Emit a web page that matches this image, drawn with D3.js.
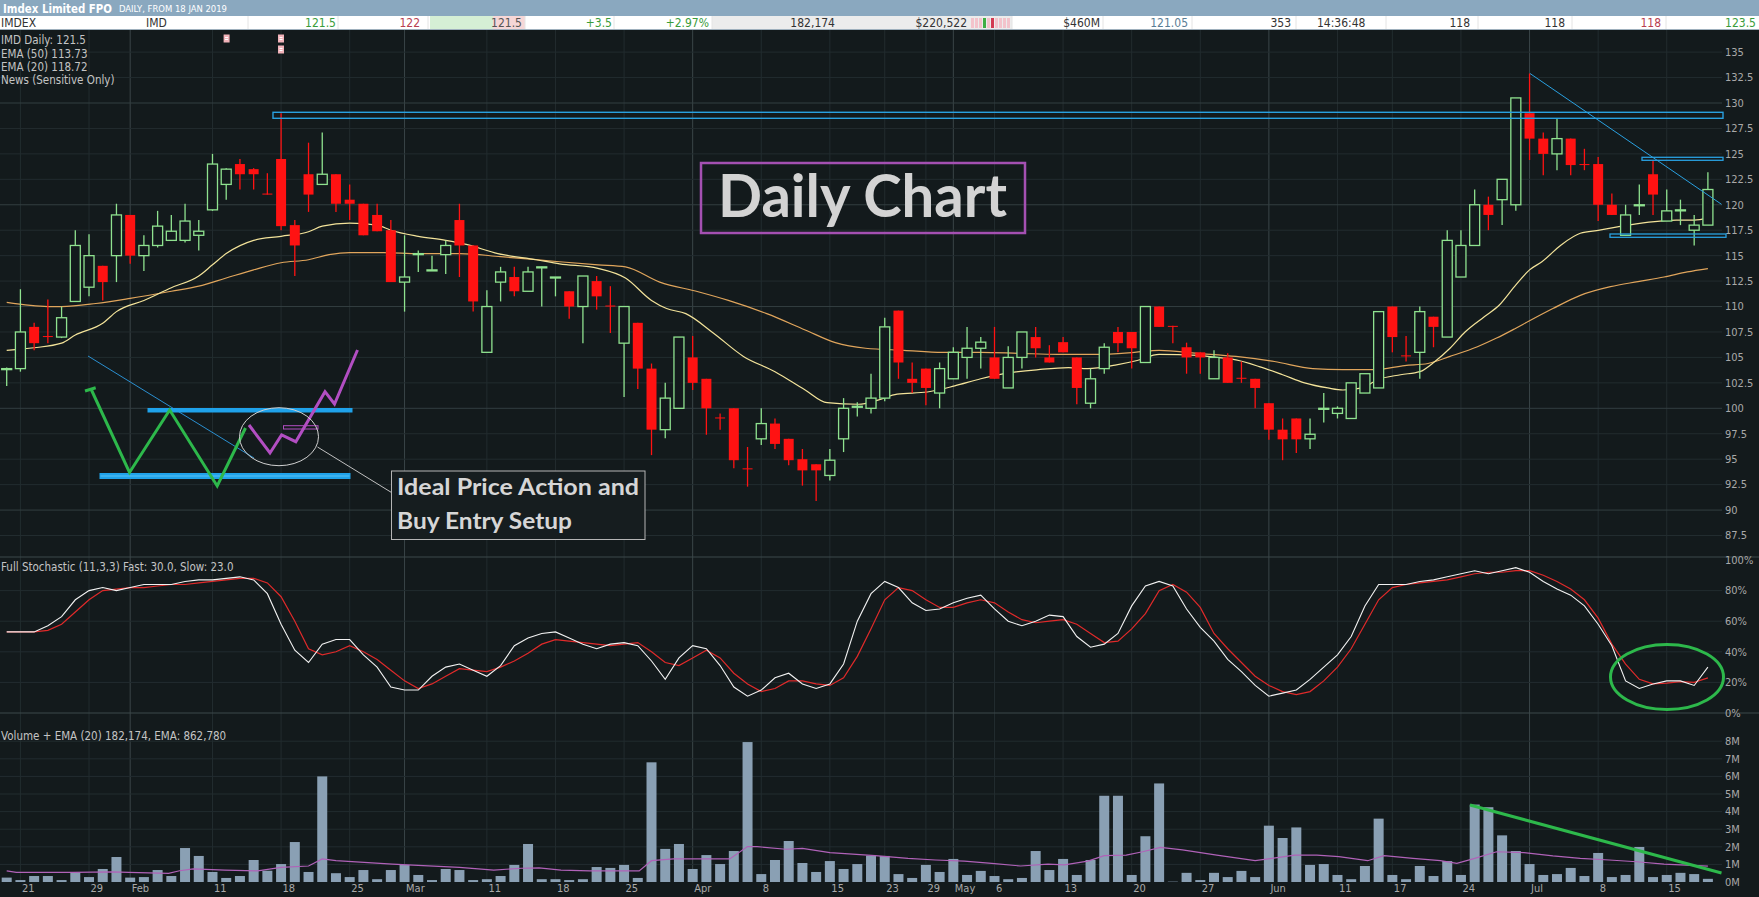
<!DOCTYPE html>
<html>
<head>
<meta charset="utf-8">
<script src="https://cdn.jsdelivr.net/npm/d3@7"></script>
<style>
html, body { margin: 0; padding: 0; background: #131a1c; overflow: hidden; }
svg { display: block; }
</style>
</head>
<body>
<svg id="chart"></svg>
<script>
// Daily bars, 18 Jan 2019 (index 0) to 18 Jul 2019 (index 124)
const open  = [103.8,103.9,108.0,107.1,107.0,110.5,111.9,114.0,115.0,119.0,
               115.0,116.0,116.5,116.5,117.0,119.5,122.0,124.0,123.5,121.1,
               124.5,118.0,123.0,122.0,123.0,120.5,120.1,119.0,117.5,112.4,
               115.1,113.5,115.1,118.5,116.0,105.5,112.4,112.9,111.5,113.8,
               112.8,111.5,110.0,112.5,110.1,106.4,108.4,103.9,97.9,100.0,
               105.0,102.9,99.1,100.0,94.1,97.0,98.5,97.0,95.0,94.5,
               93.4,97.0,100.1,100.0,101.0,109.6,102.9,103.9,101.5,102.9,
               105.0,105.9,105.0,102.0,105.0,107.0,105.0,106.5,105.0,100.5,
               103.9,107.5,107.5,104.5,110.0,108.1,106.0,105.5,102.9,105.0,
               103.0,102.9,100.5,97.9,99.0,97.0,99.9,99.5,99.0,101.5,
               102.0,110.0,105.2,105.5,109.0,107.0,112.9,116.0,120.0,120.5,
               120.0,129.0,126.5,125.0,126.5,124.0,124.0,120.0,117.0,119.9,
               123.0,118.4,119.4,117.5,118.0];
const high  = [104.0,111.7,108.4,110.7,110.0,117.5,117.1,114.0,120.1,119.0,
               117.0,119.4,119.0,120.1,118.5,125.0,123.6,124.5,123.6,123.1,
               129.0,118.5,126.1,127.1,123.0,122.0,120.1,120.1,118.5,117.0,
               115.5,115.0,116.5,120.1,116.0,111.6,113.9,113.9,113.9,113.9,
               112.9,111.5,113.0,113.0,112.0,110.0,108.4,104.4,102.5,107.0,
               107.1,102.9,99.5,100.0,96.2,100.0,99.0,97.0,96.0,94.5,
               96.0,101.0,100.6,103.4,108.9,109.6,104.5,103.9,104.5,106.0,
               108.0,107.0,108.0,106.1,107.5,108.0,106.2,107.0,105.0,103.9,
               106.4,108.0,107.5,110.0,110.0,108.1,106.45,105.5,105.7,105.4,
               104.6,102.9,100.5,99.0,99.0,99.0,101.5,100.2,102.5,103.4,
               109.5,110.0,107.1,110.0,109.0,117.5,117.5,121.5,120.8,122.5,
               130.5,132.9,127.1,128.5,126.5,125.5,124.7,121.1,120.0,122.0,
               124.4,121.5,120.5,119.0,123.2];
const low   = [102.2,103.6,105.7,106.4,106.9,110.5,111.0,110.6,112.4,114.2,
               113.5,115.8,116.5,116.3,115.5,119.4,120.5,121.5,121.5,121.0,
               117.5,113.0,119.3,122.0,119.3,118.5,117.0,117.4,112.4,109.5,
               113.4,113.5,113.2,112.9,109.5,105.5,110.5,111.0,111.5,110.0,
               111.0,108.8,106.4,109.7,107.4,101.1,101.9,95.4,97.05,100.0,
               101.8,97.4,97.9,94.1,92.3,96.4,96.0,94.4,92.4,90.9,
               92.9,95.7,99.2,99.5,100.7,102.9,101.5,100.3,100.0,102.9,
               102.9,103.9,102.9,102.0,103.9,105.0,104.5,105.5,100.4,100.0,
               103.4,105.5,103.9,104.5,108.0,106.4,103.4,103.4,102.9,102.5,
               102.5,100.0,96.9,94.9,95.6,96.0,98.6,99.0,99.0,101.5,
               102.0,105.5,104.6,102.9,106.0,107.0,112.9,116.0,117.5,118.0,
               119.4,124.4,122.9,123.4,122.9,123.4,118.4,119.0,117.0,119.0,
               119.0,118.4,118.0,116.0,118.0];
const close = [103.9,107.5,106.4,107.0,108.9,116.0,115.0,112.4,119.0,115.0,
               116.0,117.9,117.4,118.4,117.4,124.0,123.5,123.0,123.0,121.0,
               117.9,116.0,121.0,123.0,120.1,120.1,117.0,117.4,112.4,112.9,
               115.2,113.6,116.0,116.0,110.5,110.0,113.4,111.5,113.4,113.9,
               112.9,110.0,113.0,111.0,110.0,110.0,103.9,97.9,101.0,107.0,
               102.5,100.0,99.0,94.9,94.0,98.5,96.5,94.9,93.9,93.9,
               94.9,100.0,100.2,101.0,108.0,104.5,102.5,102.0,103.9,105.5,
               105.9,106.5,102.9,105.0,107.5,105.9,104.5,105.5,102.0,102.9,
               106.0,106.4,105.9,110.0,108.0,108.0,105.0,105.0,105.0,102.5,
               102.9,102.0,97.9,96.95,96.95,97.45,100.0,100.0,102.5,103.4,
               109.5,107.0,105.1,109.5,108.0,116.5,116.0,120.0,119.0,122.5,
               130.5,126.5,125.0,126.5,123.9,123.9,120.0,119.0,119.0,120.0,
               121.0,119.4,119.5,118.0,121.5];
// volume in millions
const volume = [0.25,0.11,0.34,0.34,0.11,0.55,0.28,0.74,1.42,0.25,
                0.28,0.68,0.34,1.93,1.48,0.57,0.23,0.34,1.25,0.64,
                1.02,2.27,0.57,6.0,0.5,0.28,0.68,0.16,0.68,0.97,
                0.4,0.11,0.74,0.68,0.11,0.16,0.34,0.97,2.16,0.16,
                0.16,0.11,0.16,0.85,0.8,0.97,0.23,6.8,1.88,2.16,
                0.74,1.53,1.02,1.76,7.95,0.45,1.25,2.33,1.08,0.57,
                1.19,0.74,1.02,1.5,1.48,0.45,0.23,0.97,0.57,1.31,
                0.4,0.63,0.34,0.16,0.23,1.76,0.68,1.31,0.4,1.25,
                4.9,4.9,0.4,2.6,5.6,0.02,0.52,0.11,0.52,0.28,
                0.63,0.28,3.2,2.5,3.1,0.97,1.02,0.4,0.16,0.91,
                3.6,0.4,0.16,0.91,0.34,1.19,0.4,4.4,4.25,2.65,
                1.76,1.02,0.4,0.45,0.8,0.34,1.65,0.28,0.4,1.99,
                0.28,0.4,0.52,0.45,0.18];
// Full Stochastic (11,3,3): fast (white) and slow (red), percent
const stochFast = [53,53,53,57,63,74,80,82,80,82, 84,84,84,86,87,87,88,89,87,78,
                   58,41,33,45,48,48,38,30,17,15, 15,24,30,32,28,24,31,44,49,52,
                   53,49,45,42,45,46,44,34,22,36, 44,42,31,17,11,15,23,26,19,16,
                   19,32,60,78,86,82,72,67,68,72, 75,77,68,60,57,60,64,63,50,43,
                   45,52,70,83,86,83,68,56,47,35, 27,18,11,13,15,22,30,38,50,70,
                   84,84,84,86,87,89,91,93,91,93, 95,92,86,81,77,70,58,44,21,16,
                   19,21,21,18,30];
const stochSlow = [53,53,53,54,58,66,74,80,81,82, 82,83,84,84,85,86,87,88,88,85,
                   76,60,42,38,40,44,40,35,28,21, 16,19,24,29,28,27,30,34,39,45,
                   48,47,46,45,44,45,46,40,33,31, 36,41,36,26,19,14,16,21,21,19,
                   18,23,37,55,74,82,80,74,69,69, 72,74,72,66,61,59,60,61,58,52,
                   46,47,55,65,80,84,79,69,52,42, 33,24,18,14,12,14,21,30,42,58,
                   74,82,84,85,86,87,89,91,92,92, 93,93,90,86,81,74,62,45,32,22,
                   19,19.5,20.5,20,23];
// EMA lines: [bar index, value]
const ema20 = [[0,105.7],[2,105.95],[4,106.4],[5,107.2],[7,108.35],[8,109.5],[10,110.6],[12,111.85],
               [14,113.0],[15,114.1],[16,115.2],[18,116.5],[20,116.9],[22,117.35],[23,117.9],[25,118.2],
               [27,118.0],[28,117.5],[30,116.9],[32,116.5],[33.5,116.1],[35.8,115.2],[38.6,114.6],[40.3,114.2],
               [43.1,113.75],[45.1,112.8],[47,110.6],[48.1,109.8],[49.5,109.3],[51.5,107.4],[53.7,105.1],[56,103.6],
               [58.2,101.8],[59.8,100.55],[62.1,100.4],[63.5,100.8],[64.9,101.4],[67.1,101.6],[69.1,102.2],[71,102.9],
               [72.7,103.4],[75.2,103.8],[77.4,104.0],[78.8,103.9],[80.8,104.25],[82.4,104.7],[84,105.3],[86.8,105.2],
               [88.2,105.0],[89.6,104.75],[91.3,104.1],[93,103.3],[94.6,102.5],[96.3,102.0],[97.4,101.8],[98.8,102.0],
               [99.9,102.8],[101.6,103.3],[103,103.6],[104.1,104.6],[105.2,105.9],[106.3,107.5],[107.7,109.0],[108.8,110.15],
               [109.9,111.95],[111,113.6],[111.9,114.4],[113.3,116.05],[114.7,117.2],[116.1,117.5],[117.5,117.85],[119.7,118.3],
               [121.7,118.5],[123,118.5],[124,118.72]];
const ema50 = [[0,110.4],[3,110.0],[4,110.0],[6.5,110.3],[9,110.8],[12,111.5],[14,112.0],[16,112.8],
               [18,113.6],[20,114.3],[22,114.6],[23.5,115.1],[25,115.3],[27.5,115.3],[30,115.2],[33,115.2],
               [36,114.9],[38.6,114.6],[40.3,114.4],[43.1,114.1],[45.1,113.9],[47.6,112.4],[50.4,111.45],[52.6,110.6],
               [55.4,109.3],[58.2,107.7],[60.4,106.45],[62.6,105.9],[65.4,105.7],[68.2,105.5],[71,105.5],[73.8,105.4],
               [76.6,105.3],[79.4,105.3],[82.2,105.5],[84,105.7],[86.8,105.4],[89.6,105.1],[92.4,104.6],[95.2,103.9],
               [97.4,103.8],[99.7,103.8],[101.9,104.2],[103.6,104.4],[105.2,105.1],[107.2,106.05],[108.6,106.9],[109.9,107.8],
               [111,108.6],[112.7,109.8],[114.7,111.1],[116.9,111.95],[118.9,112.45],[120.8,112.9],[122.5,113.4],[124,113.73]];
const volEma = [[0,0.63],[0.7,0.55],[4.8,0.55],[7.7,0.57],[8.9,0.55],[11.8,0.49],[12.6,0.64],[13.6,0.74],
                [15.9,0.68],[18.3,0.63],[20,0.83],[22,0.91],[23,1.31],[24,1.21],[28.1,1.02],[33,0.83],
                [35.5,0.68],[37.5,0.78],[38.8,0.8],[40.4,0.68],[42.5,0.63],[46.1,0.63],[47,1.21],[48.6,1.31],
                [52.7,1.31],[54,2.01],[54.7,2.01],[56.8,1.86],[58,1.91],[60,1.67],[63.3,1.5],[65.7,1.34],
                [67.7,1.25],[69.8,1.19],[71.8,1.06],[73.9,0.91],[75.9,1.02],[77.1,0.97],[78.8,1.19],[80,1.5],
                [81.6,1.53],[82.8,1.72],[84.1,1.97],[85.7,1.82],[88.2,1.53],[91,1.21],[93.9,1.53],[95.5,1.53],
                [97.1,1.44],[99.2,1.21],[100.4,1.5],[102.5,1.34],[104.5,1.21],[105.7,1.06],[107,1.34],[108.6,1.72],
                [110.6,1.67],[112.7,1.48],[114.7,1.34],[116.8,1.25],[118.8,1.15],[120.8,1.02],[124,0.9]];
// x axis ticks (bar index + label)
const tickIdx = [1,6,9,15,20,25,29,35,40,45,50,55,60,64,67,69,72,77,82,87,92,97,101,106,111,116,121];
const tickLbl = ["21","29","Feb","11","18","25","Mar","11","18","25","Apr","8","15","23","29","May","6","13","20","27","Jun","11","17","24","Jul","8","15"];
const priceTicks = [135,132.5,130,127.5,125,122.5,120,117.5,115,112.5,110,107.5,105,102.5,100,97.5,95,92.5,90,87.5];
const stochTicks = [100,80,60,40,20,0];
const volTicks = [8,7,6,5,4,3,2,1,0];

const W = 1759, H = 897;
const FONT = "'Liberation Sans Narrow','Arial Narrow','DejaVu Sans Condensed','Liberation Sans',sans-serif";
const BG = "#131a1c";
const UP = "#8fe28f", DOWN = "#ff1212";

const svg = d3.select("#chart").attr("width", W).attr("height", H)
    .style("font-family", FONT);

const x  = d3.scaleLinear().domain([0, 124]).range([6.7, 1707.9]);
const yP = d3.scaleLinear().domain([100, 130]).range([408.3, 103]);
const yS = d3.scaleLinear().domain([0, 100]).range([713, 560]);
const yV = d3.scaleLinear().domain([0, 8]).range([882, 741.2]);
const GRID_R = 1722;

svg.append("rect").attr("width", W).attr("height", H).attr("fill", BG);

// ---- grid ----
const grid = svg.append("g");
const months = ["Feb","Mar","Apr","May","Jun","Jul"];
tickIdx.forEach((t, k) => {
    grid.append("line")
        .attr("x1", x(t)).attr("x2", x(t)).attr("y1", 30).attr("y2", 882)
        .attr("stroke", months.includes(tickLbl[k]) ? "#3a4548" : "#222c2f")
        .attr("stroke-width", 1);
});
priceTicks.forEach(p => {
    grid.append("line")
        .attr("x1", 0).attr("x2", GRID_R).attr("y1", yP(p)).attr("y2", yP(p))
        .attr("stroke", p % 10 === 0 ? "#333e41" : "#222c2f");
});
stochTicks.filter(s => s > 0 && s < 100).forEach(s => {
    grid.append("line").attr("x1", 0).attr("x2", GRID_R)
        .attr("y1", yS(s)).attr("y2", yS(s)).attr("stroke", "#222c2f");
});
volTicks.filter(v => v > 0).forEach(v => {
    grid.append("line").attr("x1", 0).attr("x2", GRID_R)
        .attr("y1", yV(v)).attr("y2", yV(v)).attr("stroke", "#222c2f");
});
// pane separators
[557, 713].forEach(yy => {
    grid.append("line").attr("x1", 0).attr("x2", W).attr("y1", yy).attr("y2", yy)
        .attr("stroke", "#3d484b");
});

// ---- right axis labels ----
const axisTxt = (xx, yy, t) => svg.append("text").attr("x", xx).attr("y", yy)
    .attr("dy", "0.35em").attr("fill", "#a9a9a9").attr("font-size", 11).text(t);
priceTicks.forEach(p => axisTxt(1725, yP(p), p));
stochTicks.forEach(s => axisTxt(1725, yS(s), s + "%"));
volTicks.forEach(v => axisTxt(1725, yV(v), v + "M"));

// x axis labels
tickIdx.forEach((t, k) => {
    svg.append("text").attr("x", x(t) + 1.5).attr("y", 892)
        .attr("fill", "#a9a9a9").attr("font-size", 11).text(tickLbl[k]);
});

// ---- EMA lines ----
const emaLine = d3.line().x(d => x(d[0])).y(d => yP(d[1])).curve(d3.curveMonotoneX);
svg.append("path").attr("d", emaLine(ema50)).attr("fill", "none")
    .attr("stroke", "#e0a55c").attr("stroke-width", 1.2);
svg.append("path").attr("d", emaLine(ema20)).attr("fill", "none")
    .attr("stroke", "#f3e39a").attr("stroke-width", 1.2);

// ---- candles ----
const bars = d3.range(close.length).map(i => ({i, o: open[i], h: high[i], l: low[i], c: close[i]}));
const cg = svg.append("g").selectAll("g").data(bars).enter().append("g");
cg.append("line")
    .attr("x1", d => x(d.i)).attr("x2", d => x(d.i))
    .attr("y1", d => yP(d.h)).attr("y2", d => yP(d.l))
    .attr("stroke", d => d.c >= d.o ? UP : DOWN).attr("stroke-width", 1.3);
cg.append("rect")
    .attr("x", d => x(d.i) - 5).attr("width", 10)
    .attr("y", d => yP(Math.max(d.o, d.c)))
    .attr("height", d => Math.max(1, Math.abs(yP(d.o) - yP(d.c))))
    .attr("fill", d => d.c >= d.o ? BG : DOWN)
    .attr("stroke", d => d.c >= d.o ? UP : "none")
    .attr("stroke-width", 1.3);

// ---- stochastic ----
const sLine = d3.line().x((d, i) => x(i)).y(d => yS(d));
svg.append("path").attr("d", sLine(stochSlow)).attr("fill", "none")
    .attr("stroke", "#e02a2a").attr("stroke-width", 1.2);
svg.append("path").attr("d", sLine(stochFast)).attr("fill", "none")
    .attr("stroke", "#f2f2f2").attr("stroke-width", 1.1);

// ---- volume ----
svg.append("g").selectAll("rect").data(volume).enter().append("rect")
    .attr("x", (d, i) => x(i) - 5).attr("width", 10)
    .attr("y", d => yV(d)).attr("height", d => yV(0) - yV(d))
    .attr("fill", "#8aa0b4");
svg.append("path")
    .attr("d", d3.line().x(d => x(d[0])).y(d => yV(d[1]))(volEma))
    .attr("fill", "none").attr("stroke", "#b062b8").attr("stroke-width", 1.2);

// ---- pane legends ----
const legend = (yy, t) => svg.append("text").attr("x", 1).attr("y", yy)
    .attr("fill", "#c4c4c4").attr("font-size", 11.5).text(t);
legend(44, "IMD Daily: 121.5");
legend(57.5, "EMA (50) 113.73");
legend(71, "EMA (20) 118.72");
legend(84, "News (Sensitive Only)");
legend(571, "Full Stochastic (11,3,3) Fast: 30.0, Slow: 23.0");
legend(740, "Volume + EMA (20) 182,174, EMA: 862,780");

// news icons
[[223.6, 34.5], [278, 34.5], [278, 45.5]].forEach(p => {
    svg.append("rect").attr("x", p[0]).attr("y", p[1]).attr("width", 6).attr("height", 8)
        .attr("fill", "#f2b3ba");
    svg.append("line").attr("x1", p[0] + 1.5).attr("x2", p[0] + 4.5)
        .attr("y1", p[1] + 3).attr("y2", p[1] + 3).attr("stroke", "#fff");
    svg.append("line").attr("x1", p[0] + 1.5).attr("x2", p[0] + 4.5)
        .attr("y1", p[1] + 5).attr("y2", p[1] + 5).attr("stroke", "#fff");
});

// ---- header ----
svg.append("rect").attr("x", 0).attr("y", 0).attr("width", W).attr("height", 16).attr("fill", "#8aa8bf");
svg.append("rect").attr("x", 0).attr("y", 16).attr("width", W).attr("height", 14).attr("fill", "#ffffff");
svg.append("rect").attr("x", 430).attr("y", 16).attr("width", 63).attr("height", 14).attr("fill", "#d5efd5");
svg.append("rect").attr("x", 493).attr("y", 16).attr("width", 32).attr("height", 14).attr("fill", "#f6d7d7");
svg.append("rect").attr("x", 712).attr("y", 16).attr("width", 300).attr("height", 14).attr("fill", "#ececec");
svg.append("line").attr("x1", 0).attr("x2", W).attr("y1", 29.5).attr("y2", 29.5).attr("stroke", "#9fb0bd");
[248, 338, 428, 525, 614, 712, 1012, 1103, 1192, 1296, 1386, 1478, 1572, 1666].forEach(xx => {
    svg.append("line").attr("x1", xx).attr("x2", xx).attr("y1", 16).attr("y2", 29)
        .attr("stroke", "#e4e4e4");
});
// mini trade bars
["#f3c3cb","#f3c3cb","#f3c3cb","#3fae45","#f3c3cb","#d23b52","#f3c3cb","#f3c3cb","#f3c3cb","#f3c3cb"]
    .forEach((c, k) => {
        svg.append("rect").attr("x", 971 + k * 4).attr("y", 18).attr("width", 3).attr("height", 10).attr("fill", c);
    });

svg.append("text").attr("x", 3).attr("y", 12.5).attr("fill", "#ffffff")
    .attr("font-size", 13).attr("font-weight", "bold")
    .attr("textLength", 109).attr("lengthAdjust", "spacingAndGlyphs").text("Imdex Limited FPO");
svg.append("text").attr("x", 119).attr("y", 12).attr("fill", "#ffffff")
    .attr("font-size", 8).attr("textLength", 108).attr("lengthAdjust", "spacingAndGlyphs")
    .text("DAILY, FROM 18 JAN 2019");

const cell = (xx, t, color, anchor) => svg.append("text").attr("x", xx).attr("y", 27)
    .attr("fill", color).attr("font-size", 12).attr("text-anchor", anchor || "end").text(t);
cell(1, "IMDEX", "#333", "start");
cell(146, "IMD", "#333", "start");
cell(336, "121.5", "#3a9c3a");
cell(420, "122", "#b8404f");
cell(522, "121.5", "#555");
cell(612, "+3.5", "#3a9c3a");
cell(709, "+2.97%", "#3a9c3a");
cell(835, "182,174", "#333");
cell(967, "$220,522", "#333");
cell(1100, "$460M", "#333");
cell(1188, "121.05", "#5a7d95");
cell(1291, "353", "#333");
cell(1317, "14:36:48", "#333", "start");
cell(1470, "118", "#333");
cell(1565, "118", "#333");
cell(1661, "118", "#b8404f");
cell(1756, "123.5", "#3a9c3a");

// ---- annotations ----
const ann = svg.append("g");
const BLUE = "#29a0e0";
ann.append("rect").attr("x", 273).attr("y", 112.3).attr("width", 1450).attr("height", 6)
    .attr("fill", "none").attr("stroke", BLUE).attr("stroke-width", 1.4);
ann.append("rect").attr("x", 1642).attr("y", 157.3).attr("width", 81).attr("height", 3)
    .attr("fill", "none").attr("stroke", BLUE).attr("stroke-width", 1.3);
ann.append("rect").attr("x", 1610).attr("y", 234).attr("width", 116).attr("height", 3.3)
    .attr("fill", "none").attr("stroke", BLUE).attr("stroke-width", 1.3);
ann.append("line").attr("x1", 1530).attr("y1", 73.5).attr("x2", 1721.5).attr("y2", 204.3)
    .attr("stroke", BLUE).attr("stroke-width", 1);

// left schematic
ann.append("line").attr("x1", 88).attr("y1", 356).attr("x2", 254).attr("y2", 458)
    .attr("stroke", "#2a8fd0").attr("stroke-width", 1);
ann.append("rect").attr("x", 147.5).attr("y", 408).attr("width", 205).attr("height", 4.5)
    .attr("fill", "#1fa2ea");
ann.append("rect").attr("x", 100).attr("y", 473.5).attr("width", 250).attr("height", 5)
    .attr("fill", "#1fa2ea").attr("stroke", "#1fa2ea");
ann.append("line").attr("x1", 100.5).attr("x2", 349.5).attr("y1", 476).attr("y2", 476)
    .attr("stroke", "#5cc0f2").attr("stroke-width", 1);
const green = "#2db84b";
ann.append("polyline").attr("points", "85,391 95.7,387.7").attr("fill", "none")
    .attr("stroke", green).attr("stroke-width", 3);
ann.append("polyline")
    .attr("points", "91,389 129.5,472.5 169.7,410 217.2,486 245.5,428")
    .attr("fill", "none").attr("stroke", green).attr("stroke-width", 3).attr("stroke-linejoin", "miter");
ann.append("polyline")
    .attr("points", "249,425 270,453 281.6,435 295.8,441.7 325,391.7 334.5,404 357.5,350")
    .attr("fill", "none").attr("stroke", "#b24ec2").attr("stroke-width", 3);
ann.append("rect").attr("x", 283.5).attr("y", 425.7).attr("width", 34.5).attr("height", 3.3)
    .attr("fill", "none").attr("stroke", "#b24ec2").attr("stroke-width", 1);
ann.append("ellipse").attr("cx", 279).attr("cy", 436.7).attr("rx", 39.5).attr("ry", 29)
    .attr("fill", "none").attr("stroke", "#d0d0d0").attr("stroke-width", 1);
ann.append("line").attr("x1", 317.5).attr("y1", 447).attr("x2", 391.5).attr("y2", 492.5)
    .attr("stroke", "#c0c0c0").attr("stroke-width", 1);

// text boxes
ann.append("rect").attr("x", 391.5).attr("y", 471).attr("width", 253.5).attr("height", 68.5)
    .attr("fill", "#161d1f").attr("stroke", "#b5b5b5").attr("stroke-width", 1);
ann.append("text").attr("x", 397).attr("y", 494.5).attr("fill", "#d6d6d6")
    .attr("font-family", "Lato, 'Open Sans', sans-serif").attr("font-weight", "bold").attr("font-size", 22)
    .attr("textLength", 242).attr("lengthAdjust", "spacingAndGlyphs").text("Ideal Price Action and");
ann.append("text").attr("x", 397).attr("y", 528.5).attr("fill", "#d6d6d6")
    .attr("font-family", "Lato, 'Open Sans', sans-serif").attr("font-weight", "bold").attr("font-size", 22)
    .attr("textLength", 175).attr("lengthAdjust", "spacingAndGlyphs").text("Buy Entry Setup");

ann.append("rect").attr("x", 701).attr("y", 163).attr("width", 324).attr("height", 70)
    .attr("fill", "none").attr("stroke", "#a450b2").attr("stroke-width", 2.5);
ann.append("text").attr("x", 718).attr("y", 216.5).attr("fill", "#d3d3d3")
    .attr("font-family", "Lato, 'Open Sans', sans-serif").attr("font-weight", "bold").attr("font-size", 60)
    .attr("textLength", 289).attr("lengthAdjust", "spacingAndGlyphs").text("Daily Chart");

// stochastic circle and volume trend line
ann.append("ellipse").attr("cx", 1667).attr("cy", 677).attr("rx", 56.5).attr("ry", 32.5)
    .attr("fill", "none").attr("stroke", green).attr("stroke-width", 3);
ann.append("line").attr("x1", 1470).attr("y1", 805).attr("x2", 1721.5).attr("y2", 873)
    .attr("stroke", green).attr("stroke-width", 3);
</script>
</body>
</html>
